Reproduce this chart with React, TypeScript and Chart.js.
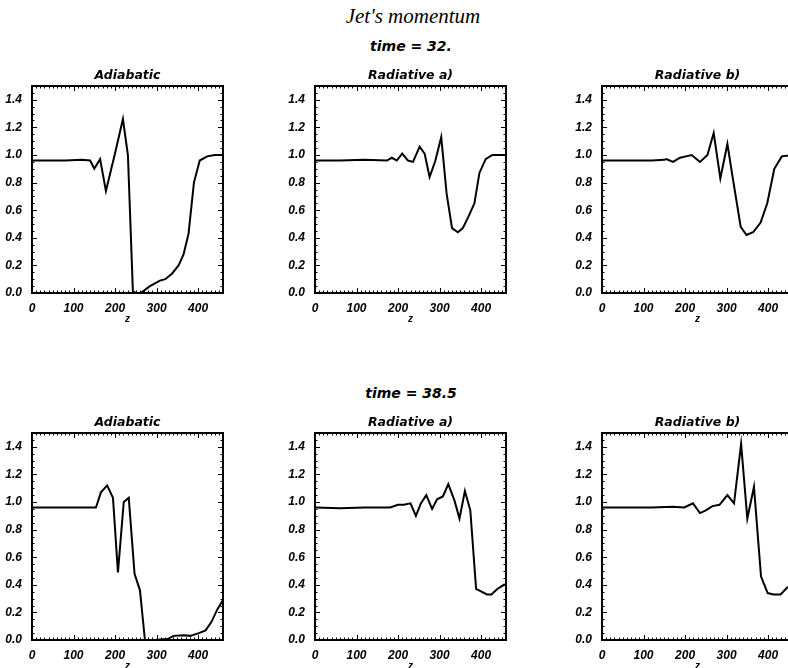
import React, { useEffect, useRef } from 'react';
import { Chart, registerables } from 'chart.js';

Chart.register(...registerables);

// ---------- data ----------
const X_TICKS = [0, 100, 200, 300, 400];
const X_TICK_LABELS = ['0', '100', '200', '300', '400'];
const Y_TICKS = [0, 0.2, 0.4, 0.6, 0.8, 1.0, 1.2, 1.4];
const Y_TICK_LABELS = ['0.0', '0.2', '0.4', '0.6', '0.8', '1.0', '1.2', '1.4'];

const ROW_TITLES = ['time = 32.', 'time = 38.5'];
const PANEL_TITLES = ['Adiabatic', 'Radiative a)', 'Radiative b)'];
const MAIN_TITLE = "Jet's momentum";
const X_TITLE = 'z';

const t32AdiaZ = [0, 40, 80, 120, 140, 150, 164, 178, 199, 219, 231, 243, 252, 262, 284, 308, 321, 337, 353, 365, 377, 390, 404, 422, 440, 460];
const t32AdiaP = [0.96, 0.96, 0.96, 0.965, 0.96, 0.9, 0.97, 0.74, 1.0, 1.26, 1.0, 0.01, 0.0, 0.0, 0.05, 0.09, 0.1, 0.14, 0.2, 0.28, 0.43, 0.8, 0.96, 0.99, 1.0, 1.0];

const t32RadAZ = [0, 60, 120, 173, 185, 197, 210, 224, 236, 252, 264, 276, 290, 304, 317, 330, 344, 356, 369, 384, 396, 411, 427, 460];
const t32RadAP = [0.96, 0.96, 0.965, 0.96, 0.98, 0.96, 1.01, 0.96, 0.95, 1.06, 1.01, 0.84, 0.96, 1.13, 0.72, 0.47, 0.44, 0.47, 0.55, 0.65, 0.87, 0.97, 1.0, 1.0];

const t32RadBZ = [0, 60, 120, 150, 155, 171, 188, 202, 216, 236, 254, 269, 285, 302, 314, 334, 348, 364, 382, 398, 415, 433, 460];
const t32RadBP = [0.96, 0.96, 0.96, 0.965, 0.97, 0.95, 0.98, 0.99, 1.0, 0.95, 1.0, 1.16, 0.83, 1.08, 0.85, 0.48, 0.42, 0.44, 0.51, 0.65, 0.9, 0.99, 1.0];

const t385AdiaZ = [0, 60, 120, 154, 166, 181, 195, 207, 221, 233, 247, 260, 272, 296, 329, 341, 365, 381, 402, 418, 432, 446, 460];
const t385AdiaP = [0.96, 0.96, 0.96, 0.96, 1.07, 1.12, 1.03, 0.49, 1.0, 1.03, 0.48, 0.36, 0.0, 0.0, 0.01, 0.03, 0.035, 0.03, 0.05, 0.07, 0.13, 0.22, 0.29];

const t385RadAZ = [0, 60, 120, 181, 200, 214, 230, 243, 255, 268, 282, 294, 308, 321, 336, 348, 361, 374, 388, 401, 414, 425, 439, 455, 460];
const t385RadAP = [0.96, 0.955, 0.96, 0.96, 0.98, 0.98, 0.99, 0.9, 0.99, 1.05, 0.95, 1.02, 1.04, 1.13, 1.01, 0.88, 1.08, 0.94, 0.37, 0.35, 0.33, 0.33, 0.37, 0.4, 0.4];

const t385RadBZ = [0, 60, 120, 170, 198, 219, 236, 250, 266, 283, 302, 318, 335, 350, 366, 383, 399, 413, 430, 446, 460];
const t385RadBP = [0.96, 0.96, 0.96, 0.965, 0.96, 0.99, 0.92, 0.94, 0.97, 0.98, 1.05, 0.99, 1.42, 0.88, 1.11, 0.46, 0.34, 0.33, 0.33, 0.38, 0.4];

const X_MIN = 0;
const X_MAX = 460;
const Y_MIN = 0;
const Y_MAX = 1.5;

// ---------- layout ----------
const PLOT_W = 191;
const PLOT_H = 207;
const Y_AXIS_W = 31;
const X_AXIS_H = 40;
const TITLE_H = 18;
const RIGHT_PAD = 12;
const COL_LEFT = [32, 315, 602];
const ROW_TOP = [86, 433];

const TICK_FONT = "'Liberation Sans', Arial, sans-serif";
const TITLE_FONT = "'DejaVu Sans', sans-serif";

const idlFrame = {
  id: 'idlFrame',
  afterDatasetsDraw(chart: any) {
    const { ctx, chartArea: a } = chart;
    const xs = chart.scales.x;
    const ys = chart.scales.y;
    ctx.save();
    ctx.strokeStyle = '#000';
    ctx.lineWidth = 1;
    ctx.beginPath();
    for (let i = 0; i * 10 <= X_MAX; i++) {
      const v = i * 10;
      const px = Math.round(xs.getPixelForValue(v)) + 0.5;
      const len = i % 10 === 0 ? 5 : 2.5;
      ctx.moveTo(px, a.bottom);
      ctx.lineTo(px, a.bottom - len);
      ctx.moveTo(px, a.top);
      ctx.lineTo(px, a.top + len);
    }
    for (let i = 0; i * 0.05 <= Y_MAX + 1e-9; i++) {
      const v = i * 0.05;
      const py = Math.round(ys.getPixelForValue(v)) + 0.5;
      const len = i % 4 === 0 ? 5 : 2.5;
      ctx.moveTo(a.left, py);
      ctx.lineTo(a.left + len, py);
      ctx.moveTo(a.right, py);
      ctx.lineTo(a.right - len, py);
    }
    ctx.stroke();
    ctx.lineWidth = 2;
    ctx.strokeRect(a.left, a.top, a.right - a.left, a.bottom - a.top);
    ctx.restore();
  },
};

type PanelProps = { left: number; top: number; title: string; xs: number[]; ys: number[] };

function Panel({ left, top, title, xs, ys }: PanelProps) {
  const ref = useRef<HTMLCanvasElement | null>(null);
  const width = Y_AXIS_W + PLOT_W + RIGHT_PAD;
  const height = TITLE_H + PLOT_H + X_AXIS_H;

  useEffect(() => {
    if (!ref.current) return;
    const chart = new Chart(ref.current, {
      type: 'line',
      data: {
        datasets: [
          {
            data: xs.map((x, i) => ({ x, y: ys[i] })),
            borderColor: '#000',
            borderWidth: 2,
            pointRadius: 0,
            tension: 0,
            fill: false,
          },
        ],
      },
      options: {
        animation: false,
        responsive: false,
        events: [],
        layout: { padding: { left: 0, right: RIGHT_PAD, top: 0, bottom: 0 } },
        plugins: {
          legend: { display: false },
          tooltip: { enabled: false },
          title: {
            display: true,
            text: title,
            fullSize: false,
            color: '#000',
            font: { family: TITLE_FONT, size: 12.5, weight: 'bold', style: 'italic', lineHeight: 1.2 },
            padding: { top: 0, bottom: 3 },
          },
        },
        scales: {
          x: {
            type: 'linear',
            min: X_MIN,
            max: X_MAX,
            afterBuildTicks: (s: any) => {
              s.ticks = X_TICKS.map((v) => ({ value: v }));
            },
            afterFit: (s: any) => {
              s.height = X_AXIS_H;
            },
            grid: { display: false, drawTicks: false },
            border: { display: false },
            ticks: {
              color: '#000',
              padding: 8,
              maxRotation: 0,
              autoSkip: false,
              font: { family: TICK_FONT, size: 12, weight: 'bold', style: 'italic' },
              callback: (_v: any, i: number) => X_TICK_LABELS[i],
            },
            title: {
              display: true,
              text: X_TITLE,
              color: '#000',
              font: { family: TICK_FONT, size: 10, weight: 'bold', style: 'italic', lineHeight: 1.2 },
              padding: { top: 0, bottom: 8 },
            },
          },
          y: {
            type: 'linear',
            min: Y_MIN,
            max: Y_MAX,
            afterBuildTicks: (s: any) => {
              s.ticks = Y_TICKS.map((v) => ({ value: v }));
            },
            afterFit: (s: any) => {
              s.width = Y_AXIS_W;
            },
            grid: { display: false, drawTicks: false },
            border: { display: false },
            ticks: {
              color: '#000',
              padding: 10,
              autoSkip: false,
              font: { family: TICK_FONT, size: 12, weight: 'bold', style: 'italic' },
              callback: (_v: any, i: number) => Y_TICK_LABELS[i],
            },
          },
        },
      } as any,
      plugins: [idlFrame],
    });
    return () => chart.destroy();
  }, [title, xs, ys]);

  return (
    <canvas
      ref={ref}
      width={width}
      height={height}
      style={{ position: 'absolute', left: left - Y_AXIS_W, top: top - TITLE_H, width, height }}
    />
  );
}

const PANELS = [
  [t32AdiaZ, t32AdiaP],
  [t32RadAZ, t32RadAP],
  [t32RadBZ, t32RadBP],
  [t385AdiaZ, t385AdiaP],
  [t385RadAZ, t385RadAP],
  [t385RadBZ, t385RadBP],
];

export default function App() {
  return (
    <div
      style={{
        position: 'fixed',
        left: 0,
        top: 0,
        width: 788,
        height: 668,
        overflow: 'hidden',
        background: '#fff',
      }}
    >
      <div
        style={{
          position: 'absolute',
          left: 0,
          width: 826,
          top: 4,
          textAlign: 'center',
          fontFamily: "'Liberation Serif', serif",
          fontStyle: 'italic',
          fontSize: 21,
          lineHeight: '24px',
          color: '#000',
        }}
      >
        {MAIN_TITLE}
      </div>
      {ROW_TITLES.map((t, r) => (
        <div
          key={t}
          style={{
            position: 'absolute',
            left: 0,
            width: 822,
            top: [36, 383][r],
            textAlign: 'center',
            fontFamily: TITLE_FONT,
            fontStyle: 'italic',
            fontWeight: 'bold',
            fontSize: 14,
            lineHeight: '20px',
            color: '#000',
          }}
        >
          {t}
        </div>
      ))}
      {PANELS.map(([xs, ys], i) => (
        <Panel
          key={i}
          left={COL_LEFT[i % 3]}
          top={ROW_TOP[Math.floor(i / 3)]}
          title={PANEL_TITLES[i % 3]}
          xs={xs}
          ys={ys}
        />
      ))}
    </div>
  );
}
